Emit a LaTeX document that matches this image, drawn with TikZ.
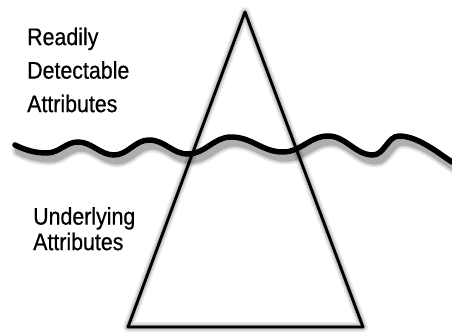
\documentclass[tikz,border=0pt]{standalone}
\usepackage{fontspec}
\setmainfont{Liberation Sans}[FakeStretch=0.89,FakeBold=0.6]
\begin{document}
\begin{tikzpicture}[x=1pt,y=-1pt,
    labeltext/.style={anchor=north west,inner sep=0pt,align=left},
    edge/.style={line width=2.8pt,line join=round},
    waterline/.style={line width=5.5pt,line cap=round}]
    \useasboundingbox (0,0) rectangle (452,333);
    % corners of the triangle
    \coordinate (apex) at (245,12);
    \coordinate (bl) at (128,327);
    \coordinate (br) at (363,327);
    \def\wavepath{(15,145) .. controls (25,150) and (35,153) .. (47,153)
      .. controls (59,153) and (66,142) .. (78,142)
      .. controls (92,142) and (100,155) .. (114,155)
      .. controls (128,155) and (135,140) .. (149,140)
      .. controls (165,140) and (172,154) .. (188,154)
      .. controls (205,154) and (214,137) .. (231,137)
      .. controls (252,137) and (262,152) .. (283,152)
      .. controls (301,152) and (310,136) .. (328,136)
      .. controls (346,136) and (355,155) .. (373,155)
      .. controls (384,155) and (388,136) .. (399,136)
      .. controls (418,136) and (438,153) .. (452,162)}
    % shadows
    \foreach \w/\o in {10/0.08,7/0.11,4/0.17}{
      \draw[black,line width=\w pt,opacity=\o,line join=round,shift={(4,-3)}]
        (apex) -- (br) -- (bl) -- cycle;
      \draw[black,line width=\w pt+3pt,opacity=\o,line cap=round,shift={(3,6)}] \wavepath;
    }
    % triangle
    \draw[edge] (apex) -- (br) -- (bl) -- cycle;
    % wave
    \draw[waterline] \wavepath;
    % labels
    \node[labeltext,font=\fontsize{24}{33.5}\selectfont] (upper) at (27,27.5)
      {Readily\\Detectable\\Attributes};
    \node[labeltext,font=\fontsize{24}{25.5}\selectfont] (lower) at (33,207)
      {Underlying\\Attributes};
\end{tikzpicture}
\end{document}
